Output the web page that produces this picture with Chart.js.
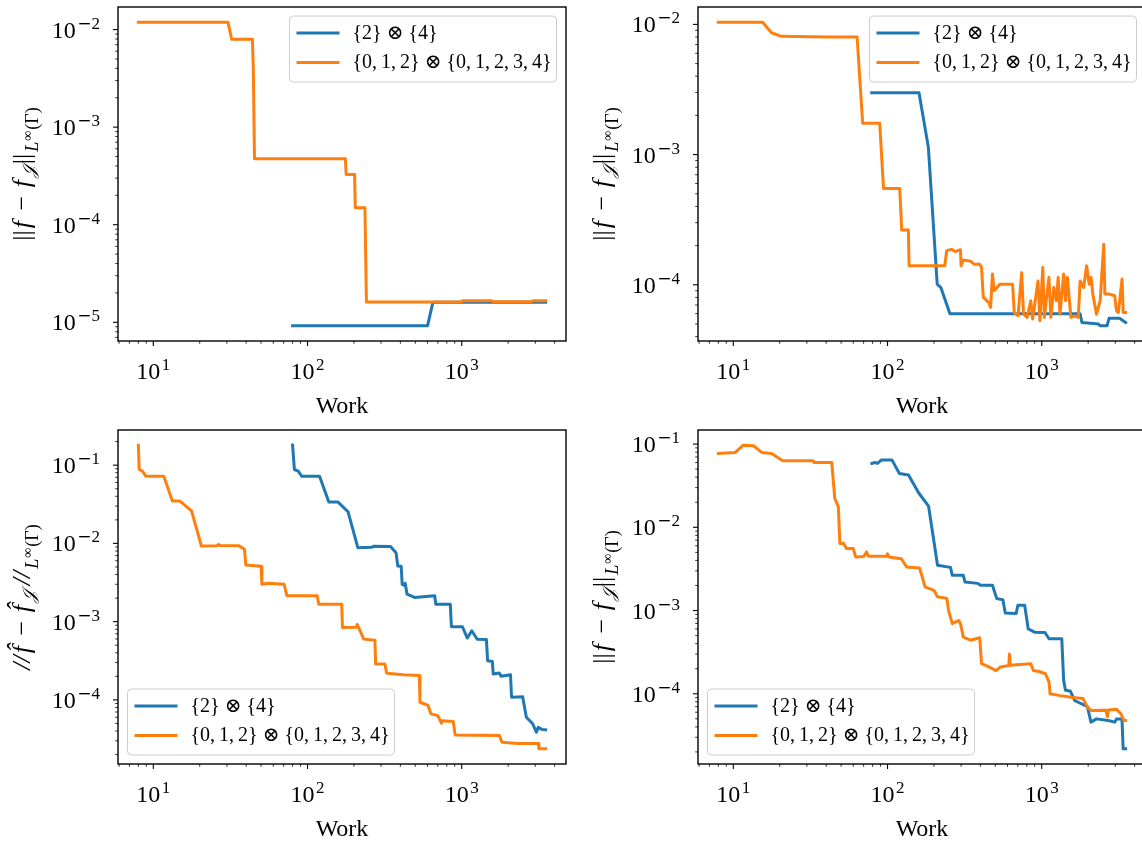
<!DOCTYPE html>
<html>
<head>
<meta charset="utf-8">
<script src="https://cdn.jsdelivr.net/npm/chart.js@4.4.0/dist/chart.umd.min.js"></script>
<style>
  html, body { margin: 0; padding: 0; background: #ffffff; overflow: hidden; width: 1142px; height: 844px; }
  canvas { position: absolute; }
</style>
</head>
<body>
<canvas id="c1" width="580" height="422" style="left:0px;top:0px"></canvas>
<canvas id="c2" width="580" height="422" style="left:580px;top:0px"></canvas>
<canvas id="c3" width="580" height="422" style="left:0px;top:422px"></canvas>
<canvas id="c4" width="580" height="422" style="left:580px;top:422px"></canvas>
<script>
// ---------------- data ----------------
const seriesLabels = ['{2} \u2297 {4}', '{0,\u20091,\u20092} \u2297 {0,\u20091,\u20092,\u20093,\u20094}'];
const xTitle = 'Work';

// Panel 1 (top left)
const workP1Blue = [80, 600, 650, 3500];
const errP1Blue  = [9.2e-6, 9.2e-6, 1.6e-5, 1.6e-5];
const workP1Orange = [8, 30.5, 32.2, 43.9, 44.5, 45.3, 176, 178, 202, 204, 235.6, 241, 1000, 1012, 1571, 1600, 2800, 2900, 3500];
const errP1Orange  = [0.0119, 0.0119, 0.00796, 0.00796, 0.00414, 4.74e-4, 4.74e-4, 3.27e-4, 3.27e-4, 1.49e-4, 1.49e-4, 1.61e-5, 1.61e-5, 1.66e-5, 1.66e-5, 1.62e-5, 1.62e-5, 1.66e-5, 1.66e-5];

// Panel 2 (top right)
const workP2Blue = [79, 160, 184, 210, 222, 254, 1774, 1822, 2330, 2400, 2650, 2735, 3200, 3500];
const errP2Blue  = [2.98e-3, 2.98e-3, 1.14e-3, 1.01e-4, 9.5e-5, 6.0e-5, 6.0e-5, 5.13e-5, 5.0e-5, 4.84e-5, 4.84e-5, 5.54e-5, 5.54e-5, 5.13e-5];
const workP2Orange = [8, 15.5, 17.7, 20.5, 40, 63.5, 69, 89, 94.2, 120, 123.6, 136.5, 138, 235, 242, 260, 275, 297, 300, 310, 345, 364, 396, 407, 418, 454, 466, 479, 492, 535, 647, 664, 702, 741, 762, 804, 849, 873, 946, 973, 1016, 1040, 1114, 1146, 1197, 1244, 1279, 1313, 1387, 1426, 1466, 1545, 1633, 1726, 1774, 1871, 1954, 2032, 2089, 2144, 2265, 2393, 2525, 2566, 2742, 2972, 3055, 3141, 3319, 3373, 3500];
const errP2Orange  = [0.0104, 0.0104, 0.00863, 0.0081, 0.0080, 0.0080, 1.74e-3, 1.74e-3, 5.5e-4, 5.5e-4, 2.63e-4, 2.63e-4, 1.40e-4, 1.40e-4, 1.83e-4, 1.87e-4, 1.80e-4, 1.86e-4, 1.40e-4, 1.55e-4, 1.52e-4, 1.44e-4, 1.44e-4, 1.36e-4, 8.0e-5, 7.3e-5, 6.7e-5, 1.21e-4, 9.0e-5, 1.01e-4, 1.01e-4, 6.12e-5, 5.78e-5, 1.24e-4, 5.94e-5, 5.61e-5, 7.54e-5, 5.45e-5, 1.07e-4, 5.29e-5, 1.36e-4, 5.61e-5, 1.14e-4, 5.61e-5, 9.53e-5, 7.54e-5, 1.14e-4, 5.94e-5, 1.21e-4, 7.54e-5, 1.14e-4, 5.61e-5, 5.78e-5, 5.61e-5, 1.07e-4, 9.53e-5, 1.40e-4, 1.01e-4, 1.14e-4, 8.48e-5, 5.94e-5, 7.54e-5, 2.05e-4, 8.48e-5, 8.48e-5, 8.23e-5, 6.31e-5, 6.12e-5, 1.11e-4, 6.12e-5, 6.12e-5];

// Panel 3 (bottom left)
const workP3Blue = [80, 82.2, 87, 91.8, 119.7, 137.4, 157.8, 183, 212, 260, 270, 345, 375, 385, 405, 411, 425, 430, 442, 494, 668, 679, 843, 857, 1011, 1087, 1161, 1260, 1445, 1472, 1580, 1600, 1750, 1800, 2071, 2104, 2483, 2520, 2624, 2885, 3048, 3133, 3300, 3500];
const errP3Blue  = [0.18, 0.088, 0.084, 0.072, 0.072, 0.0337, 0.0337, 0.0254, 0.00883, 0.0089, 0.0092, 0.0091, 0.0076, 0.00515, 0.0051, 0.0030, 0.0029, 0.0031, 0.00224, 0.00204, 0.00214, 0.00167, 0.00167, 8.6e-4, 8.6e-4, 6.17e-4, 7.66e-4, 5.95e-4, 5.9e-4, 3.17e-4, 3.1e-4, 2.14e-4, 2.2e-4, 2.0e-4, 2.1e-4, 1.08e-4, 1.1e-4, 9.3e-5, 6.0e-5, 4.95e-5, 3.86e-5, 4.45e-5, 4.2e-5, 4.14e-5];
const workP3Orange = [8, 8.1, 8.5, 8.96, 11.7, 13.3, 14.9, 17.7, 20.5, 25.8, 26.5, 27, 36, 39, 39.8, 50, 50.6, 55.8, 70.5, 73.6, 115.6, 118.3, 166.7, 168.4, 207.5, 210, 231.7, 273.5, 276.5, 317.6, 326, 419, 531, 536, 605, 632, 700, 738, 750, 881, 906, 1754, 1823, 2311, 3133, 3165, 3500];
const errP3Orange  = [0.18, 0.088, 0.084, 0.072, 0.072, 0.0347, 0.0347, 0.026, 0.00927, 0.0093, 0.0097, 0.0094, 0.0093, 0.0084, 0.0053, 0.0051, 0.0030, 0.0031, 0.0030, 0.00214, 0.00214, 0.00167, 0.00167, 8.43e-4, 8.5e-4, 9.2e-4, 5.98e-4, 5.8e-4, 2.88e-4, 2.88e-4, 2.19e-4, 2.1e-4, 2.05e-4, 9.33e-5, 8.5e-5, 6.62e-5, 6.3e-5, 5.04e-5, 5.4e-5, 5.3e-5, 3.57e-5, 3.5e-5, 2.88e-5, 2.78e-5, 2.78e-5, 2.37e-5, 2.37e-5];

// Panel 4 (bottom right)
const workP4Blue = [79.2, 83, 86, 91, 107, 119.4, 136.8, 159, 184.5, 211, 256, 263, 310, 318, 385, 400, 479, 511, 560, 580, 682, 701, 775, 817, 897, 1050, 1115, 1349, 1387, 1425, 1530, 1633, 1977, 2086, 2264, 2700, 2972, 3055, 3313, 3373, 3500];
const errP4Blue  = [0.0585, 0.060, 0.0585, 0.0642, 0.0642, 0.0444, 0.0424, 0.026, 0.018, 0.0035, 0.0033, 0.00265, 0.00265, 0.0022, 0.00212, 0.00201, 0.00201, 0.00139, 0.00135, 9.33e-4, 9.2e-4, 0.00116, 0.00116, 6.05e-4, 5.5e-4, 5.45e-4, 4.58e-4, 4.58e-4, 1.45e-4, 1.1e-4, 1.08e-4, 8.3e-5, 7.0e-5, 4.56e-5, 4.99e-5, 4.77e-5, 4.56e-5, 4.99e-5, 4.99e-5, 2.18e-5, 2.18e-5];
const workP4Orange = [8, 10.3, 11.6, 13.5, 15.3, 17.7, 20.9, 32.8, 33.5, 43.5, 45.5, 48, 49.1, 52, 54.2, 60, 62.1, 70, 73.1, 75, 98.6, 100, 102, 122.8, 133, 161, 168, 175, 200, 211, 242.5, 249, 263, 290, 297, 310, 345, 396, 407, 454, 506, 540, 612, 618, 625, 849, 883, 960, 1057, 1115, 1133, 1313, 1589, 1850, 1977, 2086, 2600, 2668, 2700, 3053, 3264, 3412, 3500];
const errP4Orange  = [0.0772, 0.0794, 0.097, 0.0955, 0.0794, 0.0772, 0.063, 0.063, 0.060, 0.060, 0.0222, 0.0176, 0.00638, 0.00638, 0.00555, 0.00555, 0.00441, 0.00445, 0.00506, 0.0045, 0.0045, 0.0048, 0.0044, 0.0042, 0.00334, 0.00325, 0.00254, 0.00192, 0.00175, 0.00146, 0.0014, 0.001, 6.95e-4, 7.6e-4, 7.0e-4, 4.8e-4, 4.4e-4, 4.7e-4, 2.3e-4, 2.1e-4, 1.9e-4, 2.1e-4, 2.19e-4, 3.0e-4, 2.2e-4, 2.3e-4, 1.9e-4, 1.85e-4, 1.74e-4, 1.38e-4, 1.0e-4, 9.5e-5, 9.0e-5, 8.8e-5, 6.9e-5, 6.3e-5, 6.35e-5, 5.3e-5, 6.4e-5, 6.5e-5, 5.74e-5, 4.77e-5, 4.77e-5];

// ---------------- styling ----------------
const SERIF = '"Liberation Serif", "DejaVu Serif", serif';
const BLUE = '#1f77b4', ORANGE = '#ff7f0e';
const TMAIN = 24, TSUP = 17;               // tick labels
const LMAIN = 26, LSUB = 18, LSUBSUB = 14; // axis label

function f(size, italic) { return (italic ? 'italic ' : '') + size + 'px ' + SERIF; }

const yLabelStd = [
  { t: '||', font: f(LMAIN), dy: 0, gap: 2 },
  { t: 'f', font: f(LMAIN, true), dy: 0, gap: 4 },
  { t: ' \u2212 ', font: f(LMAIN), dy: 0, gap: 2 },
  { t: 'f', font: f(LMAIN, true), dy: 0, gap: 2 },
  { t: '\uD835\uDCA5', font: f(LSUB, true), dy: 5, gap: 2 },
  { t: '||', font: f(LMAIN), dy: 0, gap: 2 },
  { t: 'L', font: f(LSUB, true), dy: 8, gap: 1 },
  { t: '\u221E', font: f(LSUBSUB), dy: 2, gap: 1 },
  { t: '(\u0393)', font: f(LSUB), dy: 8 }
];
const yLabelHat = [
  { t: '//', font: f(LMAIN, true), dy: 0, gap: 2 },
  { t: 'f\u0302', font: f(LMAIN, true), dy: 0, gap: 4 },
  { t: ' \u2212 ', font: f(LMAIN), dy: 0, gap: 2 },
  { t: 'f\u0302', font: f(LMAIN, true), dy: 0, gap: 2 },
  { t: '\uD835\uDCA5', font: f(LSUB, true), dy: 5, gap: 6 },
  { t: '//', font: f(LMAIN, true), dy: 0, gap: 2 },
  { t: 'L', font: f(LSUB, true), dy: 8, gap: 1 },
  { t: '\u221E', font: f(LSUBSUB), dy: 2, gap: 1 },
  { t: '(\u0393)', font: f(LSUB), dy: 8 }
];

function logTicks(min, max) {
  const out = [];
  const e0 = Math.floor(Math.log10(min)) - 1, e1 = Math.ceil(Math.log10(max)) + 1;
  for (let e = e0; e <= e1; e++) {
    for (let m = 1; m <= 9; m++) {
      const v = m * Math.pow(10, e);
      if (v >= min * 0.9999 && v <= max * 1.0001) out.push({ value: v, major: m === 1 });
    }
  }
  return out;
}

function range(arrs) {
  let lo = Infinity, hi = -Infinity;
  arrs.forEach(a => a.forEach(v => { const l = Math.log10(v); if (l < lo) lo = l; if (l > hi) hi = l; }));
  const m = 0.05 * (hi - lo);
  return [Math.pow(10, lo - m), Math.pow(10, hi + m)];
}

const MINUS_FONT = TSUP + 'px "DejaVu Sans", sans-serif';
function drawPow(ctx, x, yBase, exp, align) {
  const neg = exp < 0;
  const digits = String(Math.abs(exp));
  ctx.font = f(TMAIN);
  const w1 = ctx.measureText('10').width;
  ctx.font = MINUS_FONT;
  const wm = neg ? ctx.measureText('\u2212').width : 0;
  ctx.font = f(TSUP);
  const wd = ctx.measureText(digits).width;
  const gap = 1.5;
  const total = w1 + gap + wm + wd;
  const x0 = align === 'right' ? x - total : x - total / 2;
  ctx.textAlign = 'left';
  ctx.textBaseline = 'alphabetic';
  ctx.font = f(TMAIN);
  ctx.fillText('10', x0, yBase);
  let xe = x0 + w1 + gap;
  if (neg) { ctx.font = MINUS_FONT; ctx.fillText('\u2212', xe, yBase - 9); xe += wm; }
  ctx.font = f(TSUP);
  ctx.fillText(digits, xe, yBase - 9);
}

function drawRich(ctx, parts, cx, cy) {
  ctx.save();
  ctx.translate(cx, cy);
  ctx.rotate(-Math.PI / 2);
  ctx.textAlign = 'left';
  ctx.textBaseline = 'alphabetic';
  let total = 0;
  parts.forEach(p => { ctx.font = p.font; p.w = ctx.measureText(p.t).width; total += p.w + (p.gap || 0); });
  let x = -total / 2;
  parts.forEach(p => { ctx.font = p.font; ctx.fillText(p.t, x, p.dy); x += p.w + (p.gap || 0); });
  ctx.restore();
}

function roundRect(ctx, x, y, w, h, r) {
  ctx.beginPath();
  ctx.moveTo(x + r, y);
  ctx.lineTo(x + w - r, y);
  ctx.arcTo(x + w, y, x + w, y + r, r);
  ctx.lineTo(x + w, y + h - r);
  ctx.arcTo(x + w, y + h, x + w - r, y + h, r);
  ctx.lineTo(x + r, y + h);
  ctx.arcTo(x, y + h, x, y + h - r, r);
  ctx.lineTo(x, y + r);
  ctx.arcTo(x, y, x + r, y, r);
  ctx.closePath();
}

function mplPlugin(cfg) {
  return {
    id: 'mpl',
    afterDraw(chart) {
      const ctx = chart.ctx, ca = chart.chartArea;
      const xs = chart.scales.x, ys = chart.scales.y;
      ctx.save();
      // legend
      const LW = 267, LH = 66;
      let lx, ly;
      if (cfg.legend === 'ur') { lx = ca.right - 9.5 - LW; ly = ca.top + 9; }
      else { lx = ca.left + 9.5; ly = ca.bottom - 9 - LH; }
      roundRect(ctx, lx, ly, LW, LH, 4);
      ctx.fillStyle = 'rgba(255,255,255,0.8)';
      ctx.fill();
      ctx.lineWidth = 1;
      ctx.strokeStyle = '#cccccc';
      ctx.stroke();
      chart.data.datasets.forEach((ds, i) => {
        const ry = ly + 17 + i * 29.5;
        ctx.strokeStyle = ds.borderColor;
        ctx.lineWidth = 3;
        ctx.lineCap = 'butt';
        ctx.beginPath(); ctx.moveTo(lx + 7, ry); ctx.lineTo(lx + 50, ry); ctx.stroke();
        ctx.fillStyle = '#000';
        ctx.font = f(20);
        ctx.textAlign = 'left';
        ctx.textBaseline = 'alphabetic';
        ctx.fillText(ds.label, lx + 63, ry + 5.5);
      });
      // frame
      ctx.strokeStyle = '#000';
      ctx.fillStyle = '#000';
      ctx.lineWidth = 1.4;
      ctx.strokeRect(ca.left, ca.top, ca.right - ca.left, ca.bottom - ca.top);
      // x ticks
      xs.ticks.forEach(t => {
        const px = xs.getPixelForValue(t.value);
        if (px < ca.left - 0.5 || px > ca.right + 0.5) return;
        ctx.lineWidth = t.major ? 1.1 : 0.8;
        ctx.beginPath(); ctx.moveTo(px, ca.bottom); ctx.lineTo(px, ca.bottom + (t.major ? 5 : 2.8)); ctx.stroke();
        if (t.major) drawPow(ctx, px, ca.bottom + 38, Math.round(Math.log10(t.value)), 'center');
      });
      // y ticks
      ys.ticks.forEach(t => {
        const py = ys.getPixelForValue(t.value);
        if (py < ca.top - 0.5 || py > ca.bottom + 0.5) return;
        ctx.lineWidth = t.major ? 1.1 : 0.8;
        ctx.beginPath(); ctx.moveTo(ca.left, py); ctx.lineTo(ca.left - (t.major ? 5 : 2.8), py); ctx.stroke();
        if (t.major) drawPow(ctx, ca.left - 18, py + 8, Math.round(Math.log10(t.value)), 'right');
      });
      // x title
      ctx.fillStyle = '#000';
      ctx.font = f(24);
      ctx.textAlign = 'center';
      ctx.textBaseline = 'alphabetic';
      ctx.fillText(xTitle, (ca.left + ca.right) / 2, ca.bottom + 72);
      // y title
      drawRich(ctx, cfg.ylabel, ca.left - 88, (ca.top + ca.bottom) / 2);
      ctx.restore();
    }
  };
}

function pts(w, e) { return w.map((x, i) => ({ x: x, y: e[i] })); }

const panels = [
  { id: 'c1', blue: [workP1Blue, errP1Blue], orange: [workP1Orange, errP1Orange], legend: 'ur', ylabel: yLabelStd, top: 7, bottom: 81 },
  { id: 'c2', blue: [workP2Blue, errP2Blue], orange: [workP2Orange, errP2Orange], legend: 'ur', ylabel: yLabelStd, top: 7, bottom: 81 },
  { id: 'c3', blue: [workP3Blue, errP3Blue], orange: [workP3Orange, errP3Orange], legend: 'll', ylabel: yLabelHat, top: 8, bottom: 80 },
  { id: 'c4', blue: [workP4Blue, errP4Blue], orange: [workP4Orange, errP4Orange], legend: 'll', ylabel: yLabelStd, top: 8, bottom: 80 }
];

panels.forEach(p => {
  const xr = range([p.blue[0], p.orange[0]]);
  const yr = range([p.blue[1], p.orange[1]]);
  new Chart(document.getElementById(p.id), {
    type: 'line',
    data: {
      datasets: [
        { label: seriesLabels[0], data: pts(p.blue[0], p.blue[1]), borderColor: BLUE, backgroundColor: BLUE, order: 1 },
        { label: seriesLabels[1], data: pts(p.orange[0], p.orange[1]), borderColor: ORANGE, backgroundColor: ORANGE, order: 0 }
      ]
    },
    options: {
      responsive: false,
      animation: false,
      events: [],
      layout: { padding: { left: 118, right: 14, top: p.top, bottom: p.bottom } },
      elements: {
        point: { radius: 0 },
        line: { borderWidth: 3, tension: 0, borderJoinStyle: 'round', borderCapStyle: 'square', fill: false }
      },
      plugins: { legend: { display: false }, tooltip: { enabled: false } },
      scales: {
        x: {
          type: 'logarithmic', min: xr[0], max: xr[1],
          ticks: { display: false }, grid: { display: false }, border: { display: false },
          afterBuildTicks: s => { s.ticks = logTicks(s.min, s.max); },
          afterFit: s => { s.height = 0; }
        },
        y: {
          type: 'logarithmic', min: yr[0], max: yr[1],
          ticks: { display: false }, grid: { display: false }, border: { display: false },
          afterBuildTicks: s => { s.ticks = logTicks(s.min, s.max); },
          afterFit: s => { s.width = 0; }
        }
      }
    },
    plugins: [mplPlugin(p)]
  });
});
</script>
</body>
</html>
